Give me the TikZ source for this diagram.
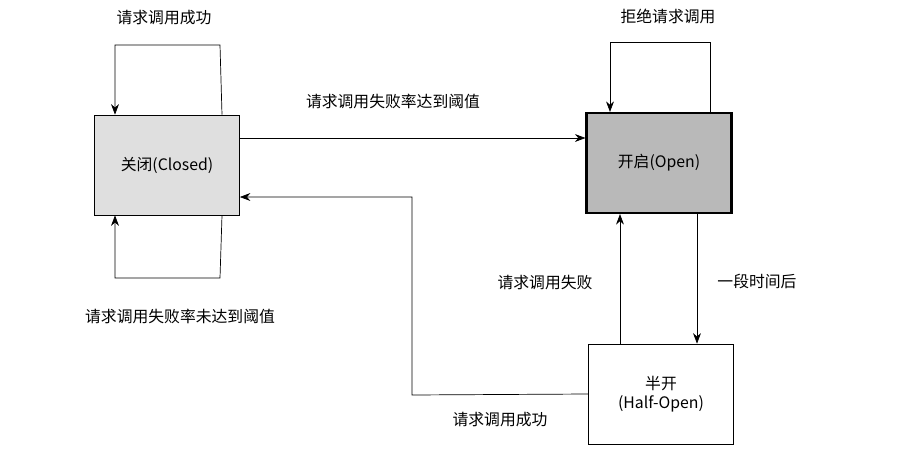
\documentclass[tikz,border=0pt]{standalone}
\usepackage{fontspec}
\setmainfont{Noto Sans CJK SC}
\usetikzlibrary{arrows.meta,positioning,calc}

\begin{document}
\begin{tikzpicture}[x=0.02cm, y=-0.02cm, >={Stealth[length=6pt]},
  state/.style={draw, minimum width=2.9cm, minimum height=2cm, align=center, font=\small},
  lbl/.style={font=\small}]
\useasboundingbox (0,0) rectangle (900,450);
%states
\node[state, fill=gray!25] (closed) at (167,165) {关闭(Closed)};
\node[state, fill=gray!55, line width=1.2pt] (open) at (659,163) {开启(Open)};
\node[state] (half) at (661,394) {半开\\(Half-Open)};
%self loops
\coordinate (c1) at (115,45);
\coordinate (c2) at (220,45);
\draw[->] ($(closed.north)+(55,0)$) -- (c2) -- (c1) -- ($(closed.north)+(-52,0)$);
\coordinate (c3) at (115,278);
\coordinate (c4) at (220,278);
\draw[->] ($(closed.south)+(55,0)$) -- (c4) -- (c3) -- ($(closed.south)+(-52,0)$);
\coordinate (o1) at (610,42);
\coordinate (o2) at (710,42);
\draw[->] ($(open.north)+(51,0)$) -- (o2) -- (o1) -- ($(open.north)+(-49,0)$);
%transitions
\draw[->] ($(closed.east)+(0,-27)$) -- ($(open.west)+(0,-25)$);
\coordinate (h1) at (412,395);
\coordinate (h2) at (412,197);
\draw[->] (half.west) -- (h1) -- (h2) -- ($(closed.east)+(0,32)$);
\draw[->] ($(half.north)+(-41,0)$) -- ($(open.south)+(-39,0)$);
\draw[->] ($(open.south)+(38,0)$) -- ($(half.north)+(36,0)$);
%labels
\node[lbl] (l1) at (164,18) {请求调用成功};
\node[lbl] (l2) at (668,16) {拒绝请求调用};
\node[lbl] (l3) at (393,101) {请求调用失败率达到阈值};
\node[lbl] (l4) at (180,316) {请求调用失败率未达到阈值};
\node[lbl] (l5) at (545,283) {请求调用失败};
\node[lbl] (l6) at (757,281) {一段时间后};
\node[lbl] (l7) at (500,420) {请求调用成功};
\end{tikzpicture}
\end{document}
